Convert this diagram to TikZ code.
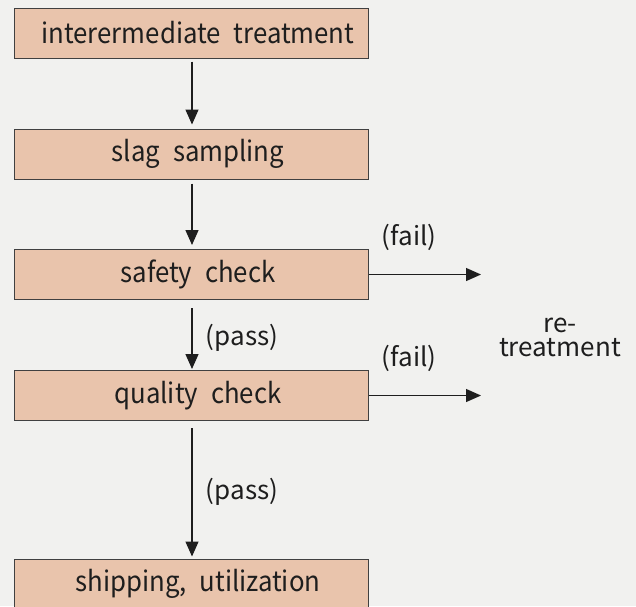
\documentclass[tikz,border=0pt]{standalone}
\usepackage{graphicx}
\usepackage{fontspec}
\setmainfont{Noto Sans CJK JP}
\usetikzlibrary{arrows.meta}
\definecolor{paper}{RGB}{241,241,239}
\definecolor{boxfill}{RGB}{233,196,172}
\definecolor{ink}{RGB}{30,30,30}
\newcommand{\wsp}{\hspace{0.5em}}
\newcommand{\steptext}[1]{\hspace*{14pt}\scalebox{0.92}[1]{#1}}
\begin{document}
\begin{tikzpicture}[x=1pt,y=-1pt,
  stepbox/.style={draw=ink!85, line width=1pt, fill=boxfill,
    minimum width=354pt, minimum height=50pt, inner sep=0pt,
    font=\fontsize{28}{30}\selectfont, text=ink},
  flow/.style={draw=ink, line width=1.3pt,
    -{Triangle[length=15pt,width=13pt]}},
  lbl/.style={font=\fontsize{26}{24}\selectfont, text=ink, inner sep=0pt, align=center}]
  \fill[paper] (0,0) rectangle (636,606);
  \useasboundingbox (0,0) rectangle (636,606);

  % process steps (text sits slightly right of centre)
  \node[stepbox] (s1) at (191,33)    {\steptext{interermediate\wsp treatment}};
  \node[stepbox] (s2) at (191,154)   {\steptext{slag\wsp sampling}};
  \node[stepbox] (s3) at (191,274.5) {\steptext{safety\wsp check}};
  \node[stepbox] (s4) at (191,395.5) {\steptext{quality\wsp check}};
  \node[stepbox] (s5) at (191,584)   {\steptext{shipping,\wsp utilization}};

  % main flow
  \draw[flow, shorten <=3pt, shorten >=4pt] ([xshift=1pt]s1.south) -- ([xshift=1pt]s2.north);
  \draw[flow, shorten <=4pt, shorten >=4pt] ([xshift=1pt]s2.south) -- ([xshift=1pt]s3.north);
  \draw[flow, shorten <=8pt, shorten >=1pt] ([xshift=1pt]s3.south) -- ([xshift=1pt]s4.north);
  \draw[flow, shorten <=7pt, shorten >=2pt] ([xshift=1pt]s4.south) -- ([xshift=1pt]s5.north);

  % rejection branches
  \coordinate (f1) at (481,274.5);
  \coordinate (f2) at (481,395.5);
  \draw[flow] (s3.east) -- (f1);
  \draw[flow] (s4.east) -- (f2);

  % labels
  \node[lbl] (fail1) at (409,237) {(fail)};
  \node[lbl] (fail2) at (409,358) {(fail)};
  \node[lbl] (pass1) at (242,338) {(pass)};
  \node[lbl] (pass2) at (242,492) {(pass)};
  \node[lbl] (retr) at (560,337) {re-\\treatment};
\end{tikzpicture}
\end{document}
